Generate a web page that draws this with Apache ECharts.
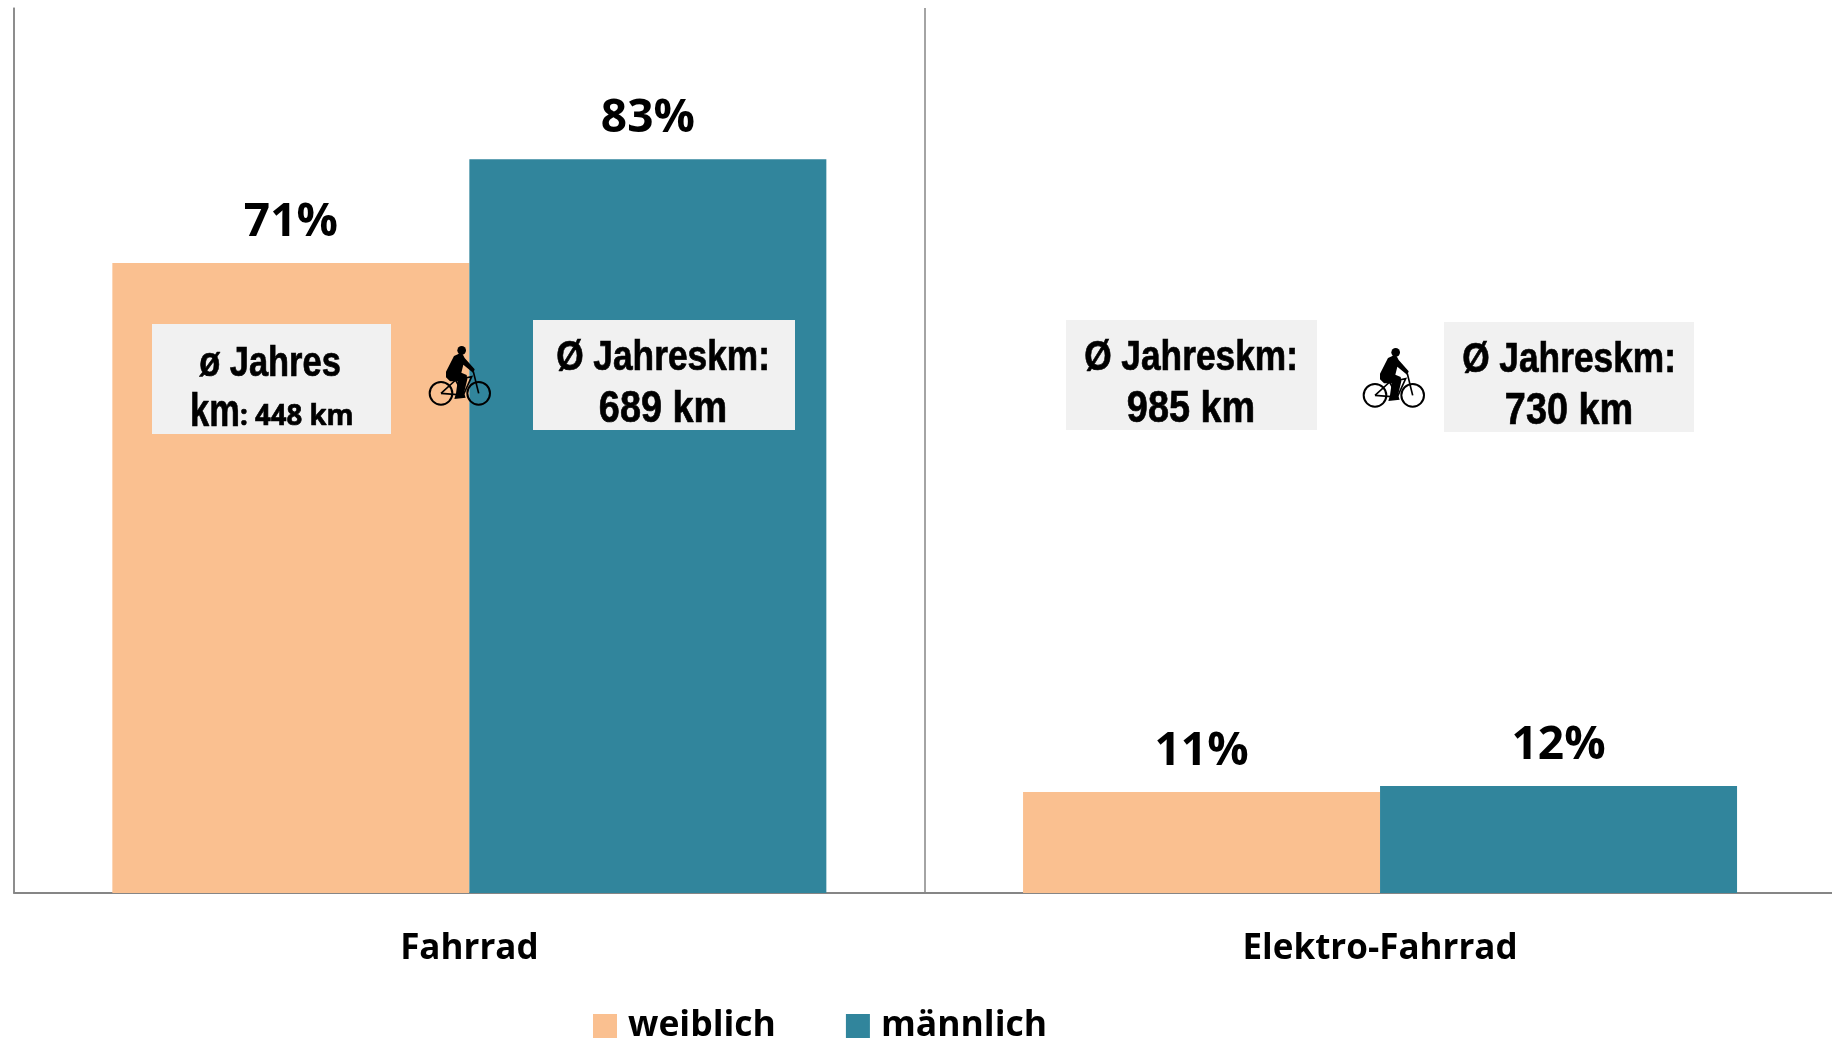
<!DOCTYPE html>
<html><head><meta charset="utf-8">
<style>html,body{margin:0;padding:0;background:#fff;overflow:hidden;width:1832px;height:1053px}#c{width:1840px;height:1053px}</style>
<script src="https://cdn.jsdelivr.net/npm/echarts@6/dist/echarts.min.js"></script>
</head><body><div id="c"></div>
<script>
const categories = ['Fahrrad', 'Elektro-Fahrrad'];
const weiblich = [71.2, 11.4];
const maennlich = [82.9, 12.1];
const seriesNames = ['weiblich', 'männlich'];
const avgLine1 = 'Ø Jahreskm:';
const avgFahrradW = ['ø Jahres', 'km', ': 448 km'];
const avgFahrradM = '689 km';
const avgElektroW = '985 km';
const avgElektroM = '730 km';

const ORANGE = '#FAC090', TEAL = '#31859C', GREY = '#868686', BOX = '#F1F1F1';
const BOLD = 'Open Sans', NARROW = '"Liberation Sans"';

function box(x, y, w, h) {
  return { type: 'rect', z: 20, shape: { x, y, width: w, height: h }, style: { fill: BOX } };
}
function line(cx, cy, text, size, squeeze, align, font) {
  return { type: 'text', z: 21, x: cx, y: cy, scaleX: squeeze, style: {
    text, fill: '#000', stroke: '#000', lineWidth: 0.7, align: align || 'center', verticalAlign: 'middle',
    font: `bold ${size}px ${font || NARROW}` } };
}
const FRAME_LINES = [
  [[93,190],[137,150],[160,195],[93,190]],
  [[137,150],[185,140],[160,195]],
  [[190,125],[206,190]]
];
const BODY = [[132,78],[150,70],[158,73],[164,84],[194,118],[190,129],[160,104],[154,128],[170,135],[172,148],[162,190],[167,203],[133,207],[138,190],[143,154],[120,154],[108,142],[108,125]];
function bike(ox, oy) {
  const common = { z: 22, x: ox, y: oy, scaleX: 1 / 3, scaleY: 1 / 3 };
  const wheel = cx => Object.assign({ type: 'circle', shape: { cx, cy: 190, r: 34 }, style: { fill: 'none', stroke: '#000', lineWidth: 6 } }, common);
  return [
    wheel(93), wheel(206),
    Object.assign({ type: 'circle', shape: { cx: 155, cy: 61, r: 13 }, style: { fill: '#000' } }, common),
    ...FRAME_LINES.map(points => Object.assign({ type: 'polyline', shape: { points }, style: { fill: 'none', stroke: '#000', lineWidth: 5 } }, common)),
    Object.assign({ type: 'polygon', shape: { points: BODY }, style: { fill: '#000' } }, common)
  ];
}

const chart = echarts.init(document.getElementById('c'), null, { renderer: 'canvas' });
const barLabel = {
  show: true, position: 'top', distance: 17, color: '#000',
  fontFamily: BOLD, fontWeight: 'bold', fontSize: 46,
  formatter: p => Math.round(p.value) + '%'
};
chart.setOption({
  animation: false,
  backgroundColor: '#fff',
  grid: { left: 14, top: 8, width: 1821.4, height: 885, containLabel: false },
  legend: {
    left: 588, top: 1003, itemWidth: 24, itemHeight: 24, itemGap: 70,
    icon: 'rect', data: seriesNames,
    textStyle: { color: '#000', fontFamily: BOLD, fontWeight: 'bold', fontSize: 35.5, padding: [0, 0, 0, 6] }
  },
  xAxis: {
    type: 'category', data: categories,
    axisLine: { show: true, lineStyle: { color: GREY, width: 2 } },
    axisTick: { show: false },
    splitLine: { show: true, lineStyle: { color: GREY, width: 1.5 } },
    axisLabel: { color: '#000', fontFamily: BOLD, fontWeight: 'bold', fontSize: 35, margin: 39, interval: 0 }
  },
  yAxis: {
    type: 'value', min: 0, max: 100,
    axisLine: { show: true, lineStyle: { color: GREY, width: 1.5 } },
    axisTick: { show: false }, axisLabel: { show: false }, splitLine: { show: false }
  },
  series: [
    { name: seriesNames[0], type: 'bar', data: weiblich, barWidth: 357, barGap: 0, itemStyle: { color: ORANGE }, label: barLabel },
    { name: seriesNames[1], type: 'bar', data: maennlich, barWidth: 357, itemStyle: { color: TEAL }, label: barLabel }
  ],
  graphic: { elements: [
    box(152, 324, 239, 110),
    line(270, 364, avgFahrradW[0], 42, 0.82),
    line(190, 413, avgFahrradW[1], 46, 0.75, 'left'),
    line(240, 417, avgFahrradW[2], 29, 0.95, 'left', BOLD),
    box(533, 320, 262, 110),
    line(663, 358, avgLine1, 42, 0.84),
    line(663, 410, avgFahrradM, 44, 0.86),
    box(1066, 320, 251, 110),
    line(1191, 358, avgLine1, 42, 0.84),
    line(1191, 410, avgElektroW, 44, 0.86),
    box(1444, 322, 250, 110),
    line(1569, 360, avgLine1, 42, 0.84),
    line(1569, 412, avgElektroM, 44, 0.86),
    ...bike(410, 330),
    ...bike(1344, 332)
  ] }
});
</script></body></html>
